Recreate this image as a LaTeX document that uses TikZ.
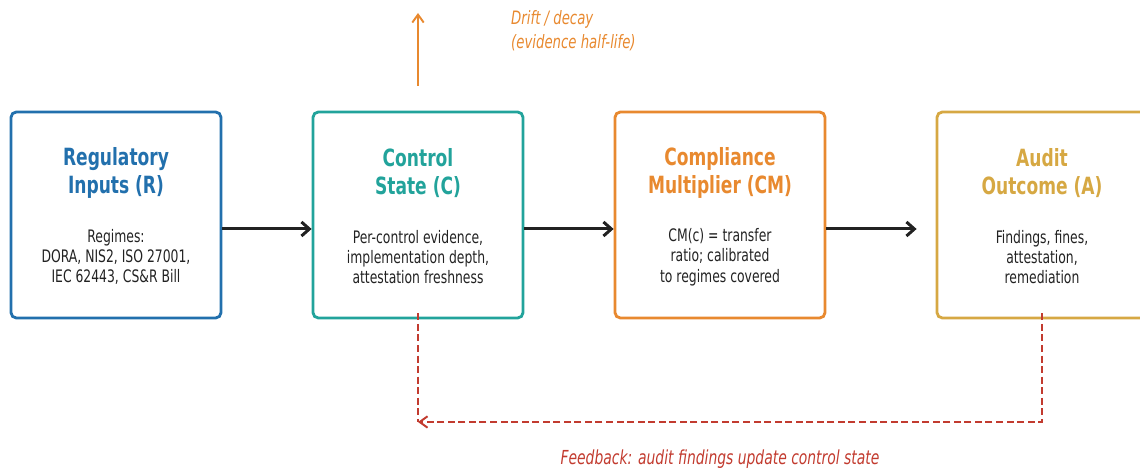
\documentclass[tikz,border=0pt]{standalone}
\usepackage{fontspec}
\setmainfont{DejaVu Sans Condensed}[FakeStretch=0.8]
\usetikzlibrary{calc}
\usetikzlibrary{positioning}
\usetikzlibrary{arrows.meta}

\definecolor{regblue}{HTML}{2270AD}
\definecolor{ctlteal}{HTML}{22A39B}
\definecolor{cmorange}{HTML}{E8892F}
\definecolor{audgold}{HTML}{D6A843}
\definecolor{fbred}{HTML}{C23B2F}
\definecolor{ink}{HTML}{222222}

\begin{document}
\begin{tikzpicture}[
    x=0.02cm, y=0.02cm,
    box/.style={draw, line width=1.6pt, rounded corners=3pt, minimum width=4.2cm, minimum height=4.12cm},
    ttl/.style={font=\fontsize{13.5}{15.8}\selectfont\bfseries, align=center},
    body/.style={font=\fontsize{9.8}{11.6}\selectfont, align=center, text=ink},
    flow/.style={line width=1.7pt, draw=ink, -{Straight Barb[length=4.5pt, width=8pt]}},
    drift/.style={line width=1.1pt, draw=cmorange, -{Straight Barb[length=4.5pt, width=6.5pt]}},
    fback/.style={line width=1.1pt, draw=fbred, dash pattern=on 4pt off 2pt},
    note/.style={font=\fontsize{10.5}{13.5}\selectfont\itshape}
]
\useasboundingbox (0,0) rectangle (1140,469);

% Boxes
\node[box, draw=regblue] (reg) at (116,254) {};
\node[box, draw=ctlteal] (ctl) at (418,254) {};
\node[box, draw=cmorange] (cm) at (720,254) {};
\node[box, draw=audgold] (aud) at (1042,254) {};

% Titles
\node[ttl, text=regblue] at ($(reg.center)+(0,42)$) {Regulatory\\Inputs (R)};
\node[ttl, text=ctlteal] at ($(ctl.center)+(0,42)$) {Control\\State (C)};
\node[ttl, text=cmorange] at ($(cm.center)+(0,42)$) {Compliance\\Multiplier (CM)};
\node[ttl, text=audgold] at ($(aud.center)+(0,42)$) {Audit\\Outcome (A)};

% Body text
\node[body] at ($(reg.center)+(0,-42)$) {Regimes:\\DORA, NIS2, ISO 27001,\\IEC 62443, CS\&R Bill};
\node[body] at ($(ctl.center)+(0,-42)$) {Per-control evidence,\\implementation depth,\\attestation freshness};
\node[body] at ($(cm.center)+(0,-42)$) {CM(c) = transfer\\ratio; calibrated\\to regimes covered};
\node[body] at ($(aud.center)+(0,-42)$) {Findings, fines,\\attestation,\\remediation};

% Main flow
\draw[flow] ($(reg.east)+(0,-14)$) -- ($(ctl.west)+(0,-14)$);
\draw[flow] ($(ctl.east)+(0,-14)$) -- ($(cm.west)+(0,-14)$);
\draw[flow, shorten >=0.38cm] ($(cm.east)+(0,-14)$) -- ($(aud.west)+(0,-14)$);

% Drift
\coordinate (drifttop) at (418,456);
\draw[drift, shorten <=0.5cm] (ctl.north) -- (drifttop);
\node[note, text=cmorange, anchor=west, align=left] (driftlab) at (505,438) {Drift / decay\\(evidence half-life)};

% Feedback loop
\coordinate (fbk) at (418,47);
\draw[fback] ($(ctl.south)+(0,6)$) -- (fbk);
\draw[fback, -{Straight Barb[length=4.5pt, width=6.5pt]}] ($(aud.south)+(0,6)$) |- (fbk);
\node[note, text=fbred, font=\fontsize{11}{13.5}\selectfont\itshape] (fblab) at (720,10) {Feedback: audit findings update control state};

\end{tikzpicture}
\end{document}
